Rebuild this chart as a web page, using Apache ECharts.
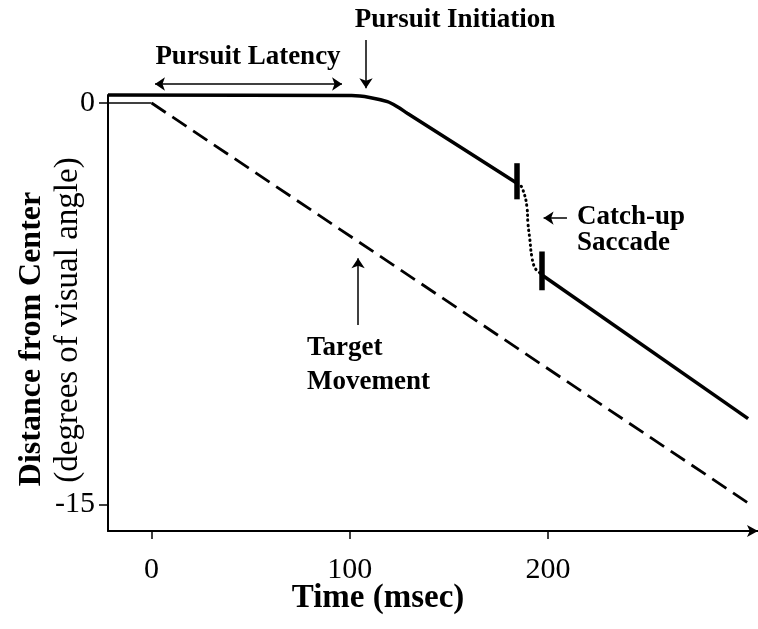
<!DOCTYPE html>
<html>
<head>
<meta charset="utf-8">
<script src="https://cdn.jsdelivr.net/npm/echarts@6/dist/echarts.min.js"></script>
<style>
  html, body { margin: 0; padding: 0; background: #fff; }
  #container { width: 758px; height: 629px; }
</style>
</head>
<body>
<div id="container"></div>
<script>
// values (time in msec, position in deg)
var eyeTime = [-22, 101, 110, 119, 124, 129, 184.4];
var eyePos = [0.3, 0.28, 0.21, 0.05, -0.14, -0.38, -3.0];
var saccadeTime = [184.4, 185.9, 187.4, 189.4, 189.9, 190.9, 191.9, 193.5, 195.5, 197];
var saccadePos = [-3.0, -3.06, -3.25, -3.89, -4.49, -5.12, -5.76, -6.17, -6.32, -6.43];
var eyeAfterTime = [197, 301];
var eyeAfterPos = [-6.43, -11.8];
var targetRestTime = [-22, 0];
var targetRestPos = [0, 0];
var targetMoveTime = [0, 302];
var targetMovePos = [0, -15];
var saccadeMarkTime = [184.4, 197];
var saccadeMarkTop = [-2.25, -5.55];
var saccadeMarkBottom = [-3.6, -7.0];
var xTicks = [0, 100, 200];
var yTicks = [0, -15];

function pairs(xs, ys) {
    return xs.map(function (x, i) { return [x, ys[i]]; });
}

var dom = document.getElementById('container');
var myChart = echarts.init(dom, null, { renderer: 'canvas' });

var serif = '"Liberation Serif", "Times New Roman", serif';

var markLines = [];
for (let i = 0; i < saccadeMarkTime.length; i++) {
    markLines.push([
        { coord: [saccadeMarkTime[i], saccadeMarkTop[i]] },
        { coord: [saccadeMarkTime[i], saccadeMarkBottom[i]] }
    ]);
}

// annotation arrows, in data coordinates
var arrows = [
    { from: [1.7, 0.71], to: [96.1, 0.71], both: true },   // pursuit latency
    { from: [108.2, 2.36], to: [108.2, 0.55] },            // pursuit initiation
    { from: [104.2, -8.3], to: [104.2, -5.8] },             // target movement
    { from: [209.6, -4.3], to: [197.8, -4.3] }              // catch-up saccade
];

var option = {
    animation: false,
    grid: { left: 108, right: 0, top: 95, bottom: 98 },
    xAxis: {
        type: 'value',
        min: -22,
        max: 306,
        axisLine: {
            onZero: false,
            lineStyle: { color: '#000', width: 2 },
            symbol: ['none', 'arrow'],
            symbolSize: [9, 11]
        },
        axisTick: { show: true, length: 8, customValues: xTicks, lineStyle: { color: '#000', width: 1.5 } },
        axisLabel: {
            customValues: xTicks,
            margin: 24,
            color: '#000',
            fontFamily: serif,
            fontSize: 30
        },
        splitLine: { show: false }
    },
    yAxis: {
        type: 'value',
        min: -16,
        max: 0.3,
        axisLine: { show: true, onZero: false, lineStyle: { color: '#000', width: 2 } },
        axisTick: { show: true, length: 9, customValues: yTicks, lineStyle: { color: '#000', width: 1.5 } },
        axisLabel: {
            customValues: yTicks,
            margin: 13,
            color: '#000',
            fontFamily: serif,
            fontSize: 30
        },
        splitLine: { show: false }
    },
    series: [
        {
            id: 'eye',
            type: 'line',
            data: pairs(eyeTime, eyePos),
            smooth: 0.3,
            symbol: 'none',
            clip: false,
            lineStyle: { color: '#000', width: 3.5 },
            markLine: {
                silent: true,
                symbol: 'none',
                label: { show: false },
                lineStyle: { color: '#000', width: 5.5, type: 'solid' },
                data: markLines
            }
        },
        {
            id: 'saccade',
            type: 'line',
            data: pairs(saccadeTime, saccadePos),
            smooth: 0.5,
            symbol: 'none',
            lineStyle: { color: '#000', width: 3, type: [0.5, 4.5], cap: 'round' }
        },
        {
            id: 'eyeAfter',
            type: 'line',
            data: pairs(eyeAfterTime, eyeAfterPos),
            symbol: 'none',
            lineStyle: { color: '#000', width: 3.5 }
        },
        {
            id: 'targetRest',
            type: 'line',
            data: pairs(targetRestTime, targetRestPos),
            symbol: 'none',
            lineStyle: { color: '#000', width: 1.5 }
        },
        {
            id: 'target',
            type: 'line',
            data: pairs(targetMoveTime, targetMovePos),
            symbol: 'none',
            clip: false,
            lineStyle: { color: '#000', width: 2.8, type: [17, 8] }
        },
        {
            id: 'arrows',
            type: 'line',
            data: []
        }
    ],
    graphic: [
        { type: 'text', x: 248, y: 57, style: { text: 'Pursuit Latency', font: 'bold 27px ' + serif, fill: '#000', align: 'center', verticalAlign: 'middle' } },
        { type: 'text', x: 455, y: 20, style: { text: 'Pursuit Initiation', font: 'bold 27px ' + serif, fill: '#000', align: 'center', verticalAlign: 'middle' } },
        { type: 'text', x: 577, y: 230, style: { text: 'Catch-up\nSaccade', font: 'bold 27px ' + serif, lineHeight: 26, fill: '#000', align: 'left', verticalAlign: 'middle' } },
        { type: 'text', x: 307, y: 365, style: { text: 'Target\nMovement', font: 'bold 27px ' + serif, lineHeight: 34, fill: '#000', align: 'left', verticalAlign: 'middle' } },
        { type: 'text', x: 378, y: 598, style: { text: 'Time (msec)', font: 'bold 33px ' + serif, fill: '#000', align: 'center', verticalAlign: 'middle' } },
        { type: 'text', x: 32, y: 339, rotation: Math.PI / 2, style: { text: 'Distance from Center', font: 'bold 32px ' + serif, fill: '#000', align: 'center', verticalAlign: 'middle' } },
        { type: 'text', x: 68, y: 320, rotation: Math.PI / 2, style: { text: '(degrees of visual angle)', font: '33px ' + serif, fill: '#000', align: 'center', verticalAlign: 'middle' } }
    ]
};

myChart.setOption(option);

// arrows may sit above the plot area, so place them by converted pixel positions
var arrowData = arrows.map(function (a) {
    var p1 = myChart.convertToPixel({ gridIndex: 0 }, a.from);
    var p2 = myChart.convertToPixel({ gridIndex: 0 }, a.to);
    return [
        { x: p1[0], y: p1[1], symbol: a.both ? 'arrow' : 'none' },
        { x: p2[0], y: p2[1], symbol: 'arrow' }
    ];
});
myChart.setOption({
    series: [{
        id: 'arrows',
        markLine: {
            silent: true,
            symbolSize: 10,
            label: { show: false },
            lineStyle: { color: '#000', width: 1.5, type: 'solid' },
            data: arrowData
        }
    }]
});

window.addEventListener('resize', myChart.resize);
</script>
</body>
</html>
